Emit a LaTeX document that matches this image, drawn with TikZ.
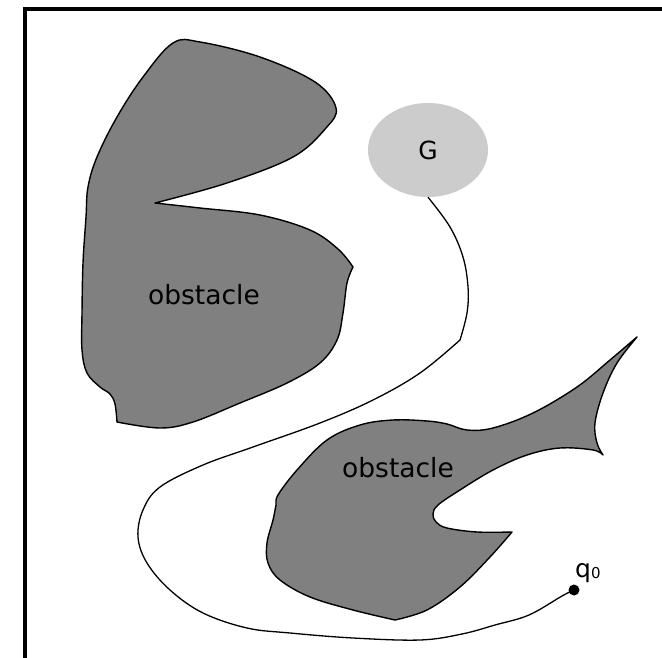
\documentclass[tikz,border=0pt]{standalone}
\usepackage{fontspec}
\setmainfont{DejaVu Sans}
\usetikzlibrary{shapes.geometric}
\begin{document}
\begin{tikzpicture}[x=1pt,y=-1pt,
  obstacle/.style={fill={rgb,255:red,128;green,128;blue,128},draw=black,line width=1.4pt,line join=round},
  goal/.style={ellipse,fill={rgb,255:red,204;green,204;blue,204},minimum width=120pt,minimum height=94pt,inner sep=0pt},
  txt/.style={font=\fontsize{26.5}{30}\selectfont,inner sep=0pt,anchor=base},
  route/.style={draw=black,line width=1.3pt},
  frame/.style={line width=4pt}]
\useasboundingbox (0,0) rectangle (662,658);

% outer frame (runs past the page edges)
\draw[frame] (25,700) -- (25,8.7) -- (700,8.7);

% upper obstacle
\draw[obstacle]
  plot[smooth,tension=0.6] coordinates {(155,203) (227,183) (293,157) (326,128) (336,108) (315,82) (260,57) (200,42) (173,43) (143,77) (117,117) (97,157) (88,187) (86,217) (83,263) (82,313) (82,350) (87,373) (100,387) (110,394) (115,404) (117,422)}
  -- plot[smooth,tension=0.6] coordinates {(117,422) (160,428) (193,422) (240,403) (287,383) (320,363) (337,340) (343,313) (347,283) (353,267)}
  -- plot[smooth,tension=0.6] coordinates {(353,267) (338,249) (310,230) (260,215) (200,208) (155,203)}
  -- cycle;

% lower obstacle
\draw[obstacle]
  plot[smooth,tension=0.6] coordinates {(637,337) (610,360) (577,387) (533,413) (493,428) (467,430) (447,424) (427,421) (393,420) (360,425) (327,440) (297,470) (278,495) (276,505) (273,520) (267,543) (268,563) (280,580) (310,597) (353,610) (395,620)}
  -- plot[smooth,tension=0.6] coordinates {(395,620) (427,610) (460,587) (490,557) (512,532)}
  -- plot[smooth,tension=0.6] coordinates {(512,532) (477,532) (447,528) (436,522) (433,514) (438,505) (460,490) (493,470) (527,455) (560,448) (593,450) (603,455)}
  -- plot[smooth,tension=0.6] coordinates {(603,455) (597,443) (595,423) (603,393) (617,363) (637,337)}
  -- cycle;

% goal region and start point
\node[goal] (G) at (428,150) {};
\node[font=\fontsize{25}{30}\selectfont,inner sep=0pt] (Glabel) at (G.center) {G};
\node[circle,fill=black,minimum size=11pt,inner sep=0pt] (start) at (574,590) {};
\node[txt,anchor=base west,font=\fontsize{25}{30}\selectfont] (q0) at (575,577) {q{\fontsize{15}{15}\selectfont\raisebox{-1pt}{0}}};

% labels of the obstacles
\node[txt] (obsA) at (204,304) {obstacle};
\node[txt] (obsB) at (398,477) {obstacle};

% route from the goal down to the start
\draw[route]
  plot[smooth,tension=0.6] coordinates {(G.south) (450,227) (463,257) (468,287) (467,313) (460,340)}
  -- plot[smooth,tension=0.6] coordinates {(460,340) (420,373) (373,400) (320,423) (253,447) (203,465) (160,487) (143,510) (138,537) (147,563) (170,590) (203,613) (247,628) (290,633) (353,638) (420,640) (462,634) (495,625) (529,615) (562,596) (start.center)};
\end{tikzpicture}
\end{document}
